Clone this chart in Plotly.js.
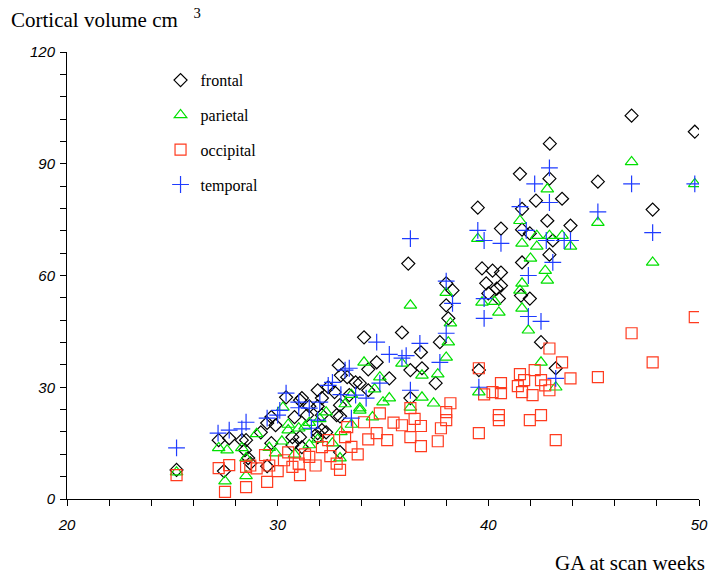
<!DOCTYPE html>
<html>
<head>
<meta charset="utf-8">
<script src="https://cdn.plot.ly/plotly-3.0.1.min.js"></script>
<style>html,body{margin:0;padding:0;background:#fff}#chart{width:711px;height:576px}</style>
</head>
<body>
<div id="chart"></div>
<script>
// ---- Data (GA at scan in weeks, cortical volume in cm^3) ----
const seriesNames = ["frontal", "parietal", "occipital", "temporal"];

const frontalGA = [25.2,27.2,27.45,27.7,28.3,28.45,28.5,28.6,28.7,29.2,29.5,29.5,29.7,29.7,29.9,30.4,30.7,30.7,30.8,31.06,31.06,31.15,31.15,31.4,31.5,31.9,31.9,31.9,31.9,32.1,32.1,32.3,32.4,32.8,32.9,32.96,32.96,32.96,33.0,33.3,33.7,33.9,34.1,34.3,34.3,34.7,35.3,35.9,36.2,36.3,36.3,36.8,36.85,37.5,37.7,38.0,38.3,38.0,38.1,39.5,39.55,39.7,39.9,40.4,40.5,40.6,40.6,40.6,41.5,41.55,41.6,41.6,41.6,41.97,41.97,42.26,42.5,42.8,42.9,42.92,42.9,43.06,43.2,43.5,43.9,45.2,46.8,47.8,49.8,40.2,40.0,32.1,32.7,33.4];
const frontalVol = [7.8,15.8,7.5,16.3,15.8,13.1,15.8,11.0,9.6,17.9,20.4,8.8,22.0,15.0,19.8,27.3,16.6,14.5,22.0,26.5,16.6,13.9,27.1,22.5,24.9,24.9,29.2,17.7,16.6,22.5,18.5,17.9,30.0,22.5,35.9,22.2,12.6,25.2,33.2,32.7,31.3,31.1,43.4,34.8,29.2,36.7,32.4,44.7,63.2,34.6,27.1,39.4,35.1,31.1,42.1,57.9,56.0,52.0,48.5,78.2,34.6,61.9,57.9,56.5,53.8,60.8,72.6,57.3,87.3,54.6,77.9,72.3,63.5,71.3,53.8,80.1,42.1,74.7,65.6,95.4,86.0,69.4,35.1,80.6,73.4,85.2,102.9,77.7,98.6,61.3,55.2,27.1,28.7,27.9];

const parietalGA = [25.2,27.2,27.5,27.6,28.3,28.5,28.5,29.9,30.25,30.5,31.0,31.5,32.3,32.96,33.2,33.5,33.9,33.9,34.1,34.85,35.3,35.9,36.3,36.3,36.85,36.85,37.4,37.6,38.0,38.2,38.1,38.0,39.55,39.5,39.7,40.5,40.3,41.5,41.5,41.6,41.6,41.6,41.9,42.0,42.3,42.3,42.5,42.7,42.8,42.8,42.9,43.2,43.5,43.9,45.2,46.8,47.8,49.8,30.5,31.3,31.9,32.6,33.0,30.2,29.6,32.0,33.5,34.5,35.0,34.6,29.0,30.8,31.5];
const parietalVol = [7.2,13.7,4.8,13.1,13.7,6.2,11.0,12.3,24.6,20.0,19.0,20.5,23.3,11.0,25.5,28.0,24.4,23.8,36.7,32.7,27.1,36.4,52.0,24.6,33.2,27.3,25.7,33.5,55.4,47.2,42.1,38.0,28.7,69.9,52.8,50.1,53.0,74.7,56.0,68.6,57.9,51.2,45.3,64.6,70.7,67.8,36.7,61.3,58.7,83.2,70.7,30.0,70.7,67.8,74.2,90.5,63.5,84.6,18.5,19.5,16.0,15.0,18.0,15.5,13.8,21.5,20.0,22.0,26.0,29.5,17.5,12.0,14.5];

const occipitalGA = [25.2,27.2,27.5,27.7,28.5,28.5,28.7,29.0,29.4,29.5,29.6,30.0,30.3,30.5,30.7,31.06,31.0,31.3,31.5,31.8,32.1,32.4,32.5,32.8,32.96,33.2,33.3,33.5,33.8,34.1,34.3,34.7,34.85,35.2,35.5,35.9,36.3,36.5,36.8,36.8,36.3,37.75,37.6,38.0,38.0,38.2,39.55,39.55,39.8,40.2,40.5,40.6,41.4,41.5,41.6,41.7,41.97,42.1,42.2,42.5,42.5,42.7,42.9,42.9,43.2,43.5,43.9,45.2,46.8,47.8,49.8,40.5,40.6];
const occipitalVol = [6.4,8.3,1.9,9.1,8.6,3.2,9.0,8.2,11.8,4.6,9.0,7.5,10.4,12.5,8.6,6.4,9.5,12.0,11.3,9.0,13.9,15.8,11.5,9.5,7.8,16.6,19.3,14.0,12.0,20.6,16.0,17.7,23.0,15.8,20.5,19.8,16.6,21.5,19.6,14.2,24.4,19.0,15.5,21.2,23.3,25.7,35.1,17.7,28.1,28.7,21.2,31.1,30.3,33.5,28.7,31.9,21.2,27.9,34.6,31.9,22.5,30.5,29.2,40.4,15.8,36.7,32.4,32.7,44.5,36.7,48.8,22.5,28.4];

const temporalGA = [25.2,27.17,27.7,28.3,28.5,29.5,30.4,30.0,31.0,31.6,32.0,32.4,32.6,33.0,33.4,33.5,34.2,34.7,34.85,35.3,35.9,36.1,36.3,36.3,36.75,37.7,38.0,38.3,38.0,39.55,39.5,39.8,39.8,39.8,40.6,41.5,41.8,41.9,41.9,42.2,42.5,42.75,42.9,42.9,43.06,43.2,43.6,43.9,45.2,46.8,47.8,49.8,31.0,31.5,33.2,33.7,31.9,30.1];
const temporalVol = [13.7,17.7,18.5,18.8,20.6,21.7,28.4,22.5,24.5,19.0,26.0,30.5,31.3,28.0,35.1,21.7,27.1,42.1,31.1,38.8,37.8,38.5,69.9,29.2,41.8,36.7,44.5,52.5,58.5,30.0,72.1,69.4,53.8,48.5,68.6,78.5,72.1,60.0,49.0,84.6,47.7,69.4,88.9,79.6,63.5,32.4,69.4,69.4,77.1,84.6,71.5,84.6,26.0,24.4,34.6,27.9,21.2,23.8];

const xTickVals = [20, 30, 40, 50];
const yTickVals = [0, 30, 60, 90, 120];

// ---- Styles ----
const styles = {
  frontal:   {symbol: "diamond-open",     color: "#000000", size: 10},
  parietal:  {symbol: "triangle-up-open", color: "#00e000", size: 11},
  occipital: {symbol: "square-open",      color: "#ff3b1f", size: 11},
  temporal:  {symbol: "cross-thin-open",  color: "#1f3cff", size: 12}
};
const xs = {frontal: frontalGA, parietal: parietalGA, occipital: occipitalGA, temporal: temporalGA};
const ys = {frontal: frontalVol, parietal: parietalVol, occipital: occipitalVol, temporal: temporalVol};

const traces = seriesNames.map(n => ({
  type: "scatter", mode: "markers", name: n, x: xs[n], y: ys[n],
  legendgroup: n,
  marker: {symbol: styles[n].symbol, size: styles[n].size, color: styles[n].color,
           line: {color: styles[n].color, width: 1.2}},
  hoverinfo: "x+y"
}));

const tickFont = {family: "Liberation Sans, Arial, sans-serif", size: 15, color: "#000"};
const serif = "Liberation Serif, Times New Roman, serif";
const italic = v => "<i>" + v + "</i>";

const layout = {
  width: 711, height: 576,
  margin: {l: 67, r: 12, t: 52, b: 77},
  paper_bgcolor: "#fff", plot_bgcolor: "#fff",
  showlegend: true,
  legend: {x: 0.148, y: 0.975, xanchor: "left", yanchor: "top",
           font: {family: serif, size: 16, color: "#000"},
           bgcolor: "rgba(0,0,0,0)", tracegroupgap: 11, traceorder: "grouped",
           itemwidth: 30},
  xaxis: {range: [20, 50], tickvals: xTickVals, ticktext: xTickVals.map(italic),
          showline: true, linecolor: "#000", linewidth: 1, mirror: false,
          ticks: "outside", ticklen: 6, tickcolor: "#000", tickwidth: 1,
          showgrid: false, zeroline: false, tickfont: tickFont, ticklabelstandoff: 6,
          minor: {dtick: 2, tick0: 20, ticks: "outside", ticklen: 6, tickcolor: "#000", showgrid: false}},
  yaxis: {range: [0, 120], tickvals: yTickVals, ticktext: yTickVals.map(italic),
          showline: true, linecolor: "#000", linewidth: 1,
          ticks: "outside", ticklen: 6, tickcolor: "#000", tickwidth: 1,
          showgrid: false, zeroline: false, tickfont: tickFont, ticklabelstandoff: 2,
          minor: {dtick: 6, tick0: 0, ticks: "outside", ticklen: 6, tickcolor: "#000", showgrid: false}},
  annotations: [
    {text: "Cortical volume cm &nbsp;&nbsp;<sup>3</sup>", xref: "paper", yref: "paper",
     x: -0.092, y: 1.075, xanchor: "left", yanchor: "middle", showarrow: false,
     font: {family: serif, size: 21, color: "#000"}},
    {text: "GA at scan weeks", xref: "paper", yref: "paper",
     x: 1.012, y: -0.143, xanchor: "right", yanchor: "middle", showarrow: false,
     font: {family: serif, size: 21, color: "#000"}}
  ]
};

Plotly.newPlot("chart", traces, layout, {displayModeBar: false, staticPlot: true});
</script>
</body>
</html>
